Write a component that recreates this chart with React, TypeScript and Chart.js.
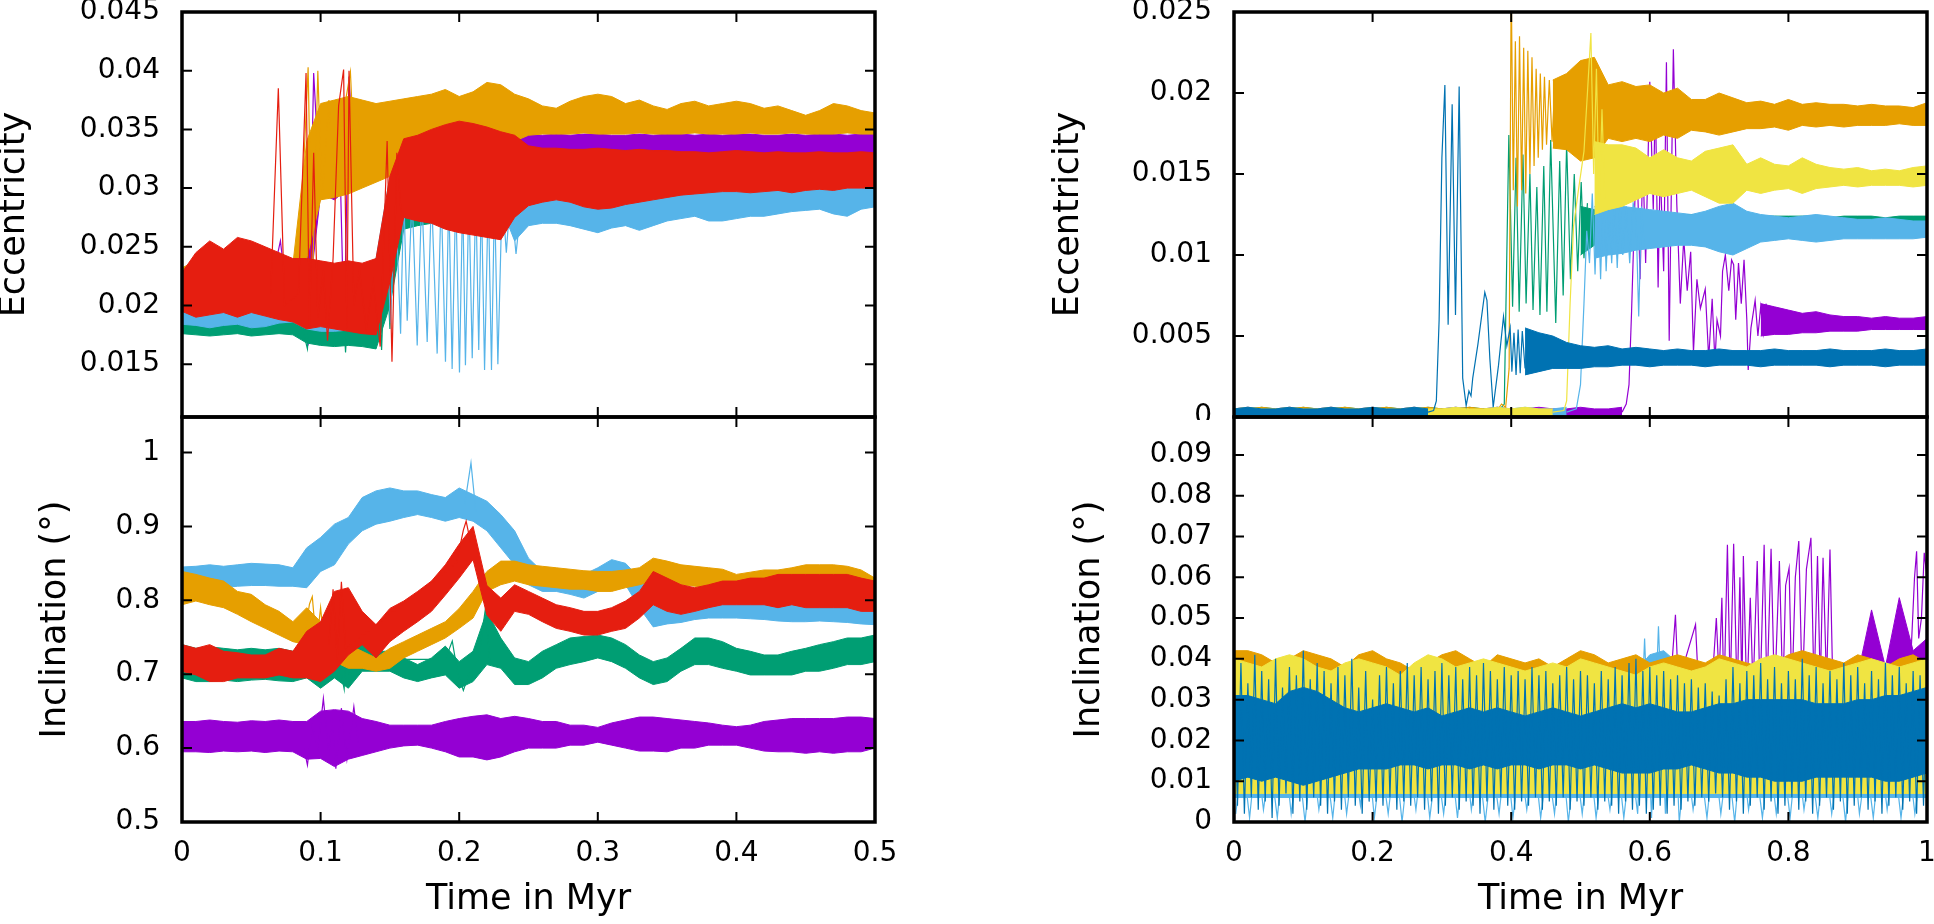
import { useEffect, useRef } from 'react'
import { Chart, registerables } from 'chart.js'

Chart.register(...registerables)

type Pt = [number, number]
type Val = number | null

// time grids (Myr)
const TIME_L = [
  0, 0.01, 0.02, 0.03, 0.04, 0.05, 0.06, 0.07, 0.08, 0.09,
  0.1, 0.11, 0.12, 0.13, 0.14, 0.15, 0.16, 0.17, 0.18, 0.19,
  0.2, 0.21, 0.22, 0.23, 0.24, 0.25, 0.26, 0.27, 0.28, 0.29,
  0.3, 0.31, 0.32, 0.33, 0.34, 0.35, 0.36, 0.37, 0.38, 0.39,
  0.4, 0.41, 0.42, 0.43, 0.44, 0.45, 0.46, 0.47, 0.48, 0.49,
  0.5,
]
const TIME_R = [
  0, 0.02, 0.04, 0.06, 0.08, 0.1, 0.12, 0.14, 0.16, 0.18,
  0.2, 0.22, 0.24, 0.26, 0.28, 0.3, 0.32, 0.34, 0.36, 0.38,
  0.4, 0.42, 0.44, 0.46, 0.48, 0.5, 0.52, 0.54, 0.56, 0.58,
  0.6, 0.62, 0.64, 0.66, 0.68, 0.7, 0.72, 0.74, 0.76, 0.78,
  0.8, 0.82, 0.84, 0.86, 0.88, 0.9, 0.92, 0.94, 0.96, 0.98,
  1,
]

// tick values and labels
const X_TICKS_L = [0, 0.1, 0.2, 0.3, 0.4, 0.5]
const X_LABELS_L = ['0', '0.1', '0.2', '0.3', '0.4', '0.5']
const X_TICKS_R = [0, 0.2, 0.4, 0.6, 0.8, 1]
const X_LABELS_R = ['0', '0.2', '0.4', '0.6', '0.8', '1']
const ECC_L_TICKS = [0.015, 0.02, 0.025, 0.03, 0.035, 0.04, 0.045]
const ECC_L_LABELS = ['0.015', '0.02', '0.025', '0.03', '0.035', '0.04', '0.045']
const INC_L_TICKS = [0.5, 0.6, 0.7, 0.8, 0.9, 1]
const INC_L_LABELS = ['0.5', '0.6', '0.7', '0.8', '0.9', '1']
const ECC_R_TICKS = [0, 0.005, 0.01, 0.015, 0.02, 0.025]
const ECC_R_LABELS = ['0', '0.005', '0.01', '0.015', '0.02', '0.025']
const INC_R_TICKS = [0, 0.01, 0.02, 0.03, 0.04, 0.05, 0.06, 0.07, 0.08, 0.09]
const INC_R_LABELS = ['0', '0.01', '0.02', '0.03', '0.04', '0.05', '0.06', '0.07', '0.08', '0.09']

const PURPLE = '#9400d3'
const GREEN = '#009e73'
const LBLUE = '#56b4e9'
const ORANGE = '#e69f00'
const YELLOW = '#f0e442'
const DBLUE = '#0072b2'
const RED = '#e51e10'

// ---------- eccentricity, left run (upper / lower edge of each band) ----------
const ECC_L_PURPLE_HI = [
  0.0215, 0.0212, 0.021, 0.0213, 0.0215, 0.0212, 0.0214, 0.022, 0.0218, 0.03,
  0.035, 0.036, 0.0355, 0.035, 0.035, 0.0348, 0.0348, 0.0348, 0.0348, 0.0348,
  0.0348, 0.0347, 0.0347, 0.0346, 0.0346, 0.0346, 0.0345, 0.0346, 0.0345, 0.0346,
  0.0346, 0.0345, 0.0345, 0.0346, 0.0345, 0.0346, 0.0346, 0.0345, 0.0346, 0.0345,
  0.0346, 0.0346, 0.0345, 0.0345, 0.0346, 0.0345, 0.0346, 0.0346, 0.0345, 0.0346,
  0.0346,
]
const ECC_L_PURPLE_LO = [
  0.0193, 0.019, 0.0192, 0.0191, 0.0193, 0.0192, 0.019, 0.0195, 0.0192, 0.019,
  0.0295, 0.029, 0.03, 0.0305, 0.031, 0.0312, 0.0315, 0.0318, 0.032, 0.0322,
  0.0322, 0.0323, 0.0324, 0.0325, 0.0326, 0.0327, 0.0326, 0.0327, 0.0326, 0.0326,
  0.0327, 0.0326, 0.0325, 0.0326, 0.0327, 0.0326, 0.0326, 0.0327, 0.0326, 0.0325,
  0.0326, 0.0327, 0.0326, 0.0326, 0.0327, 0.0326, 0.0326, 0.0327, 0.0326, 0.0326,
  0.0327,
]
const ECC_L_PURPLE_SPIKES: Pt[] = [
  [0.062, 0.0205], [0.071, 0.0255], [0.076, 0.0205], [0.086, 0.021], [0.091, 0.0166],
  [0.095, 0.0398], [0.099, 0.031], [0.103, 0.035], [0.108, 0.0305], [0.113, 0.037],
  [0.117, 0.0175], [0.1205, 0.0395], [0.125, 0.03], [0.13, 0.0345],
]
const ECC_L_GREEN_HI = [
  0.0198, 0.0196, 0.0194, 0.0196, 0.0198, 0.0196, 0.0195, 0.0197, 0.0196, 0.0215,
  0.0218, 0.022, 0.0218, 0.022, 0.0222, 0.029, 0.031, 0.0315, 0.0318, 0.032,
  0.0322, 0.032, 0.0318, 0.0316, 0.0315, 0.0314, 0.0314, 0.0315, 0.0314, 0.0314,
  0.0315, 0.0314, 0.0314, 0.0315, 0.0314, 0.0314, 0.0315, 0.0314, 0.0314, 0.0315,
  0.0314, 0.0314, 0.0315, 0.0314, 0.0314, 0.0315, 0.0314, 0.0314, 0.0315, 0.0314,
  0.0314,
]
const ECC_L_GREEN_LO = [
  0.0176, 0.0175, 0.0174, 0.0175, 0.0176, 0.0174, 0.0175, 0.0176, 0.0175, 0.0168,
  0.0166, 0.0165, 0.0166, 0.0165, 0.0163, 0.02, 0.0265, 0.0268, 0.027, 0.0272,
  0.0272, 0.0274, 0.0276, 0.028, 0.029, 0.0298, 0.0298, 0.0299, 0.0298, 0.0298,
  0.0299, 0.0298, 0.0298, 0.0299, 0.0298, 0.0298, 0.0299, 0.0298, 0.0298, 0.0299,
  0.0298, 0.0298, 0.0299, 0.0298, 0.0298, 0.0299, 0.0298, 0.0298, 0.0299, 0.0298,
  0.0298,
]
const ECC_L_GREEN_SPIKES: Pt[] = [
  [0.086, 0.0185], [0.0905, 0.0163], [0.094, 0.022], [0.112, 0.017], [0.115, 0.0225],
  [0.118, 0.016], [0.121, 0.022], [0.141, 0.024], [0.144, 0.0162], [0.147, 0.026],
  [0.15, 0.018], [0.153, 0.03],
]
const ECC_L_LBLUE_HI = [
  0.0205, 0.0203, 0.02, 0.0202, 0.0204, 0.0201, 0.0199, 0.0202, 0.0205, 0.0222,
  0.0226, 0.0228, 0.023, 0.0232, 0.024, 0.031, 0.031, 0.031, 0.031, 0.031,
  0.031, 0.031, 0.031, 0.031, 0.0305, 0.0305, 0.0305, 0.0305, 0.0304, 0.0303,
  0.0302, 0.0302, 0.0303, 0.0303, 0.0304, 0.0304, 0.0305, 0.0305, 0.0304, 0.0304,
  0.0303, 0.0303, 0.0302, 0.0302, 0.0302, 0.0301, 0.0301, 0.03, 0.03, 0.03,
  0.0299,
]
const ECC_L_LBLUE_LO = [
  0.0184, 0.0183, 0.0181, 0.0183, 0.0184, 0.0181, 0.0182, 0.0185, 0.0186, 0.018,
  0.0178, 0.0178, 0.0179, 0.0178, 0.018, 0.0285, 0.0285, 0.0285, 0.0285, 0.0285,
  0.0285, 0.0285, 0.0285, 0.0285, 0.0255, 0.0268, 0.027, 0.027, 0.0268, 0.0265,
  0.0262, 0.0266, 0.0268, 0.0264, 0.0268, 0.0272, 0.0274, 0.0276, 0.0272, 0.0272,
  0.0274, 0.0276, 0.0276, 0.0278, 0.028, 0.0281, 0.0282, 0.0278, 0.0276, 0.0282,
  0.0284,
]
const ECC_L_LBLUE_SPIKES: Pt[] = [
  [0.143, 0.024], [0.1455, 0.0205], [0.148, 0.0258], [0.1504, 0.0185], [0.154, 0.0295],
  [0.1577, 0.0176], [0.16, 0.0295], [0.1625, 0.0187], [0.166, 0.0295], [0.1697, 0.0166],
  [0.173, 0.0295], [0.1769, 0.0169], [0.18, 0.0295], [0.1841, 0.0159], [0.187, 0.0295],
  [0.1901, 0.0152], [0.1925, 0.0295], [0.1949, 0.0146], [0.1975, 0.0295], [0.2002, 0.0143],
  [0.2025, 0.0295], [0.2045, 0.0149], [0.207, 0.0295], [0.2094, 0.0155], [0.212, 0.0295],
  [0.2141, 0.0162], [0.216, 0.0295], [0.2183, 0.0145], [0.221, 0.0295], [0.2233, 0.0145],
  [0.2255, 0.0295], [0.2279, 0.015], [0.231, 0.0295], [0.234, 0.0245], [0.237, 0.0295],
  [0.241, 0.0244], [0.245, 0.029],
]
const ECC_L_ORANGE_HI = [
  0.0232, 0.0238, 0.0242, 0.0236, 0.024, 0.0238, 0.0236, 0.024, 0.0235, 0.034,
  0.0372, 0.0375, 0.0378, 0.0375, 0.0372, 0.0374, 0.0376, 0.0378, 0.038, 0.0384,
  0.0378, 0.0382, 0.039, 0.0388, 0.038, 0.0376, 0.037, 0.0368, 0.0374, 0.0378,
  0.038, 0.0378, 0.0372, 0.0375, 0.037, 0.0367, 0.0372, 0.0374, 0.037, 0.0372,
  0.0374, 0.0372, 0.0368, 0.037, 0.0366, 0.0362, 0.0366, 0.0372, 0.037, 0.0366,
  0.0364,
]
const ECC_L_ORANGE_LO = [
  0.0196, 0.0193, 0.0195, 0.0196, 0.0194, 0.0196, 0.0195, 0.0193, 0.0195, 0.024,
  0.029, 0.0292, 0.0295, 0.03, 0.0305, 0.031, 0.0318, 0.0322, 0.0326, 0.0328,
  0.033, 0.0332, 0.0334, 0.0336, 0.034, 0.0345, 0.0346, 0.0346, 0.0346, 0.0347,
  0.0346, 0.0346, 0.0346, 0.0347, 0.0346, 0.0346, 0.0346, 0.0347, 0.0346, 0.0346,
  0.0346, 0.0347, 0.0346, 0.0346, 0.0347, 0.0346, 0.0346, 0.0346, 0.0347, 0.0346,
  0.0346,
]
const ECC_L_ORANGE_SPIKES: Pt[] = [
  [0.084, 0.022], [0.091, 0.0403], [0.094, 0.021], [0.098, 0.04], [0.101, 0.029],
  [0.106, 0.0375], [0.11, 0.03], [0.116, 0.036], [0.1215, 0.0399], [0.125, 0.031],
  [0.128, 0.036],
]
const ECC_L_RED_HI = [
  0.0228, 0.0245, 0.0255, 0.0248, 0.0258, 0.0255, 0.025, 0.0245, 0.024, 0.024,
  0.0238, 0.0236, 0.0238, 0.0236, 0.024, 0.031, 0.0342, 0.0345, 0.035, 0.0354,
  0.0357, 0.0355, 0.0352, 0.0348, 0.0345, 0.0336, 0.0334, 0.0334, 0.0333, 0.0333,
  0.0334, 0.0333, 0.0332, 0.0333, 0.0332, 0.0332, 0.0331, 0.0331, 0.033, 0.0331,
  0.0332, 0.0331, 0.033, 0.0331, 0.033, 0.033, 0.0331, 0.033, 0.033, 0.0331,
  0.033,
]
const ECC_L_RED_LO = [
  0.0195, 0.019, 0.0192, 0.0194, 0.019, 0.0194, 0.0191, 0.0188, 0.0186, 0.018,
  0.0182, 0.018, 0.0178, 0.0176, 0.0175, 0.022, 0.0275, 0.0272, 0.027, 0.0265,
  0.0262, 0.026, 0.0258, 0.0256, 0.0275, 0.0285, 0.0288, 0.029, 0.0288, 0.0284,
  0.0282, 0.0283, 0.0286, 0.0288, 0.029, 0.0292, 0.0294, 0.0295, 0.0296, 0.0297,
  0.0297, 0.0296, 0.0297, 0.0298, 0.0296, 0.0298, 0.0299, 0.0298, 0.03, 0.03,
  0.03,
]
const ECC_L_RED_SPIKES: Pt[] = [
  [0.064, 0.021], [0.0695, 0.0385], [0.074, 0.02], [0.084, 0.021], [0.0895, 0.0398],
  [0.092, 0.018], [0.095, 0.033], [0.098, 0.019], [0.102, 0.023], [0.105, 0.017],
  [0.109, 0.024], [0.113, 0.037], [0.1166, 0.0401], [0.119, 0.018], [0.1205, 0.04],
  [0.124, 0.02], [0.128, 0.023], [0.133, 0.018], [0.138, 0.022], [0.143, 0.0165],
  [0.148, 0.034], [0.1515, 0.0152], [0.155, 0.033], [0.158, 0.028],
]

// ---------- inclination, left run ----------
const INC_L_PURPLE_HI = [
  0.636, 0.636, 0.638, 0.636, 0.635, 0.637, 0.636, 0.638, 0.636, 0.636,
  0.65, 0.652, 0.65, 0.64, 0.636, 0.631, 0.631, 0.631, 0.631, 0.636,
  0.64, 0.643, 0.645, 0.64, 0.643, 0.64, 0.636, 0.636, 0.631, 0.631,
  0.628, 0.634, 0.638, 0.642, 0.642, 0.64, 0.638, 0.636, 0.634, 0.631,
  0.629, 0.631, 0.636, 0.638, 0.64, 0.64, 0.64, 0.64, 0.642, 0.642,
  0.64,
]
const INC_L_PURPLE_LO = [
  0.595, 0.595, 0.594, 0.596, 0.595, 0.596, 0.594, 0.596, 0.595, 0.585,
  0.586, 0.575, 0.585, 0.59, 0.595, 0.6, 0.603, 0.604, 0.6, 0.595,
  0.588, 0.588, 0.584, 0.588, 0.595, 0.6, 0.6, 0.6, 0.604, 0.604,
  0.608, 0.604, 0.6, 0.596, 0.596, 0.595, 0.6, 0.6, 0.604, 0.604,
  0.604, 0.6, 0.596, 0.595, 0.595, 0.593, 0.595, 0.593, 0.595, 0.595,
  0.6,
]
const INC_L_PURPLE_SPIKES: Pt[] = [
  [0.088, 0.6], [0.0905, 0.577], [0.094, 0.63], [0.098, 0.6], [0.102, 0.667],
  [0.106, 0.59], [0.108, 0.64], [0.111, 0.572], [0.115, 0.654], [0.119, 0.585],
  [0.124, 0.656], [0.128, 0.595],
]
const INC_L_GREEN_HI = [
  0.74, 0.735, 0.737, 0.735, 0.733, 0.735, 0.733, 0.735, 0.731, 0.74,
  0.74, 0.758, 0.767, 0.749, 0.731, 0.731, 0.722, 0.713, 0.722, 0.738,
  0.717, 0.731, 0.785, 0.749, 0.722, 0.717, 0.731, 0.74, 0.749, 0.751,
  0.753, 0.749, 0.74, 0.726, 0.717, 0.722, 0.735, 0.749, 0.749, 0.744,
  0.735, 0.731, 0.726, 0.726, 0.731, 0.735, 0.74, 0.744, 0.749, 0.749,
  0.753,
]
const INC_L_GREEN_LO = [
  0.695, 0.69, 0.69, 0.692, 0.69, 0.692, 0.693, 0.691, 0.69, 0.695,
  0.681, 0.695, 0.681, 0.704, 0.704, 0.704, 0.695, 0.69, 0.695, 0.699,
  0.681, 0.69, 0.713, 0.708, 0.686, 0.686, 0.695, 0.708, 0.713, 0.717,
  0.722, 0.717, 0.708, 0.695, 0.686, 0.69, 0.704, 0.713, 0.713, 0.708,
  0.704, 0.699, 0.699, 0.699, 0.699, 0.704, 0.704, 0.708, 0.713, 0.713,
  0.717,
]
const INC_L_GREEN_SPIKES: Pt[] = [
  [0.115, 0.7], [0.117, 0.68], [0.119, 0.765], [0.121, 0.69], [0.124, 0.72],
  [0.19, 0.72], [0.195, 0.745], [0.199, 0.7], [0.203, 0.678], [0.207, 0.7],
  [0.214, 0.72], [0.219, 0.79], [0.222, 0.72],
]
const INC_L_LBLUE_HI = [
  0.845, 0.846, 0.848, 0.846, 0.848, 0.85, 0.849, 0.848, 0.844, 0.871,
  0.885, 0.903, 0.912, 0.939, 0.948, 0.952, 0.948, 0.948, 0.943, 0.939,
  0.952, 0.943, 0.934, 0.916, 0.894, 0.857, 0.839, 0.839, 0.839, 0.835,
  0.844, 0.855, 0.85, 0.83, 0.81, 0.808, 0.806, 0.806, 0.806, 0.806,
  0.806, 0.806, 0.806, 0.805, 0.805, 0.805, 0.805, 0.805, 0.804, 0.804,
  0.804,
]
const INC_L_LBLUE_LO = [
  0.815, 0.817, 0.818, 0.817, 0.819, 0.82, 0.82, 0.819, 0.819, 0.817,
  0.839, 0.848, 0.876, 0.894, 0.903, 0.907, 0.912, 0.916, 0.912, 0.907,
  0.912, 0.907, 0.894, 0.871, 0.848, 0.821, 0.812, 0.812, 0.808, 0.803,
  0.812, 0.825, 0.821, 0.79, 0.764, 0.768, 0.77, 0.774, 0.776, 0.776,
  0.776, 0.775, 0.774, 0.772, 0.771, 0.771, 0.772, 0.771, 0.77, 0.768,
  0.767,
]
const INC_L_LBLUE_SPIKES: Pt[] = [[0.204, 0.93], [0.2085, 0.986], [0.212, 0.92]]
const INC_L_ORANGE_HI = [
  0.839, 0.835, 0.83, 0.826, 0.812, 0.808, 0.794, 0.785, 0.771, 0.79,
  0.771, 0.749, 0.74, 0.731, 0.722, 0.735, 0.744, 0.753, 0.762, 0.771,
  0.789, 0.812, 0.839, 0.853, 0.853, 0.848, 0.846, 0.844, 0.842, 0.84,
  0.839, 0.839, 0.841, 0.844, 0.857, 0.853, 0.848, 0.846, 0.844, 0.842,
  0.835, 0.838, 0.841, 0.841, 0.844, 0.848, 0.848, 0.848, 0.846, 0.841,
  0.83,
]
const INC_L_ORANGE_LO = [
  0.794, 0.799, 0.794, 0.79, 0.781, 0.771, 0.762, 0.753, 0.744, 0.74,
  0.722, 0.717, 0.708, 0.708, 0.704, 0.708, 0.722, 0.731, 0.74, 0.749,
  0.762, 0.776, 0.812, 0.821, 0.826, 0.821, 0.819, 0.817, 0.815, 0.815,
  0.812, 0.812, 0.817, 0.821, 0.826, 0.826, 0.821, 0.819, 0.817, 0.817,
  0.814, 0.815, 0.817, 0.817, 0.819, 0.821, 0.819, 0.821, 0.819, 0.817,
  0.812,
]
const INC_L_ORANGE_SPIKES: Pt[] = [
  [0.089, 0.76], [0.092, 0.795], [0.094, 0.805], [0.097, 0.74], [0.1, 0.79], [0.103, 0.73],
]
const INC_L_RED_HI = [
  0.74, 0.735, 0.74, 0.731, 0.729, 0.726, 0.726, 0.735, 0.731, 0.758,
  0.771, 0.812, 0.817, 0.785, 0.767, 0.789, 0.799, 0.812, 0.826, 0.848,
  0.876, 0.9, 0.82, 0.803, 0.821, 0.812, 0.803, 0.794, 0.79, 0.785,
  0.785, 0.79, 0.799, 0.812, 0.839, 0.83, 0.821, 0.817, 0.821, 0.826,
  0.826, 0.83, 0.83, 0.835, 0.835, 0.835, 0.835, 0.835, 0.835, 0.83,
  0.826,
]
const INC_L_RED_LO = [
  0.704, 0.699, 0.69, 0.69, 0.695, 0.695, 0.695, 0.699, 0.695, 0.695,
  0.69, 0.704, 0.726, 0.74, 0.722, 0.744, 0.758, 0.771, 0.785, 0.807,
  0.83, 0.855, 0.78, 0.758, 0.785, 0.781, 0.771, 0.762, 0.758, 0.753,
  0.753, 0.758, 0.762, 0.776, 0.794, 0.785, 0.781, 0.785, 0.79, 0.794,
  0.794, 0.794, 0.794, 0.79, 0.794, 0.79, 0.79, 0.79, 0.79, 0.785,
  0.785,
]
const INC_L_RED_SPIKES: Pt[] = [
  [0.106, 0.74], [0.109, 0.815], [0.112, 0.72], [0.115, 0.825], [0.118, 0.735],
  [0.198, 0.85], [0.203, 0.895], [0.205, 0.907], [0.208, 0.88],
]

// ---------- eccentricity, right run ----------
const ECC_R_PURPLE_HI: Val[] = [
  0.0005, 0.0006, 0.0005, 0.0005, 0.0006, 0.0005, 0.0005, 0.0006, 0.0005, 0.0005,
  0.0006, 0.0005, 0.0005, 0.0006, 0.0005, 0.0005, 0.0006, 0.0005, 0.0005, 0.0006,
  0.0005, 0.0005, 0.0006, 0.0005, 0.0005, 0.0006, 0.0005, 0.0005, 0.0006, null,
  null, null, null, null, null, null, null, null, 0.007, 0.0068,
  0.0066, 0.0064, 0.0065, 0.0063, 0.0062, 0.0062, 0.0061, 0.0062, 0.0061, 0.0061,
  0.0062,
]
const ECC_R_PURPLE_LO: Val[] = [
  0.0001, 0.0001, 0.0001, 0.0001, 0.0001, 0.0001, 0.0001, 0.0001, 0.0001, 0.0001,
  0.0001, 0.0001, 0.0001, 0.0001, 0.0001, 0.0001, 0.0001, 0.0001, 0.0001, 0.0001,
  0.0001, 0.0001, 0.0001, 0.0001, 0.0001, 0.0001, 0.0001, 0.0001, 0.0001, null,
  null, null, null, null, null, null, null, null, 0.005, 0.0051,
  0.0051, 0.0052, 0.0052, 0.0053, 0.0053, 0.0053, 0.0054, 0.0054, 0.0054, 0.0054,
  0.0054,
]
const ECC_R_PURPLE_SPIKES: Pt[] = [
  [0.56, 0.0003], [0.566, 0.0008], [0.57, 0.002], [0.5737, 0.0065], [0.5786, 0.0135],
  [0.582, 0.015], [0.586, 0.0085], [0.59, 0.016], [0.594, 0.0095], [0.6, 0.0207],
  [0.605, 0.0128], [0.608, 0.02], [0.612, 0.008], [0.615, 0.0155], [0.62, 0.009],
  [0.624, 0.0219], [0.628, 0.0047], [0.634, 0.0227], [0.639, 0.0131], [0.644, 0.007],
  [0.649, 0.011], [0.654, 0.0078], [0.659, 0.0102], [0.663, 0.004], [0.668, 0.0085],
  [0.673, 0.0067], [0.68, 0.0079], [0.685, 0.0036], [0.69, 0.0073], [0.694, 0.0034],
  [0.697, 0.006], [0.702, 0.005], [0.705, 0.009], [0.709, 0.01], [0.714, 0.0078],
  [0.718, 0.0097], [0.721, 0.0094], [0.724, 0.006], [0.728, 0.0095], [0.732, 0.007],
  [0.736, 0.0097], [0.74, 0.006], [0.742, 0.0029], [0.746, 0.0055], [0.752, 0.0072],
  [0.756, 0.005], [0.76, 0.0068], [0.764, 0.0052], [0.768, 0.007],
]
const ECC_R_GREEN_HI: Val[] = [
  0.0005, 0.0005, 0.0006, 0.0005, 0.0005, 0.0006, 0.0005, 0.0005, 0.0006, 0.0005,
  0.0005, 0.0006, 0.0005, 0.0005, 0.0006, 0.0005, 0.0005, 0.0006, 0.0005, 0.0005,
  null, null, null, null, null, 0.013, 0.0128, 0.0127, 0.0126, 0.0126,
  0.0126, 0.0125, 0.0125, 0.0125, 0.0124, 0.0125, 0.0125, 0.0124, 0.0124, 0.0124,
  0.0124, 0.0124, 0.0124, 0.0123, 0.0124, 0.0124, 0.0124, 0.0123, 0.0124, 0.0124,
  0.0124,
]
const ECC_R_GREEN_LO: Val[] = [
  0.0001, 0.0001, 0.0001, 0.0001, 0.0001, 0.0001, 0.0001, 0.0001, 0.0001, 0.0001,
  0.0001, 0.0001, 0.0001, 0.0001, 0.0001, 0.0001, 0.0001, 0.0001, 0.0001, 0.0001,
  null, null, null, null, null, 0.01, 0.0106, 0.0108, 0.0109, 0.011,
  0.011, 0.0111, 0.0111, 0.0111, 0.0112, 0.0111, 0.0111, 0.0112, 0.0112, 0.0112,
  0.0112, 0.0112, 0.0112, 0.0112, 0.0112, 0.0112, 0.0112, 0.0112, 0.0112, 0.0112,
  0.0112,
]
const ECC_R_GREEN_SPIKES: Pt[] = [
  [0.38, 0.0003], [0.39, 0.0008], [0.3966, 0.0174], [0.402, 0.0068], [0.407, 0.016],
  [0.4115, 0.0065], [0.417, 0.0162], [0.4215, 0.007], [0.427, 0.015], [0.4315, 0.0066],
  [0.437, 0.0142], [0.4415, 0.0063], [0.447, 0.0155], [0.4515, 0.0065], [0.457, 0.0171],
  [0.4643, 0.0058], [0.47, 0.0158], [0.475, 0.0075], [0.48, 0.0169], [0.4855, 0.0085],
  [0.491, 0.015], [0.496, 0.009], [0.501, 0.0145], [0.505, 0.0098], [0.51, 0.0132],
]
const ECC_R_LBLUE_HI: Val[] = [
  0.0005, 0.0006, 0.0005, 0.0005, 0.0006, 0.0005, 0.0005, 0.0006, 0.0005, 0.0005,
  0.0006, 0.0005, 0.0005, 0.0006, 0.0005, 0.0005, 0.0006, 0.0005, 0.0005, 0.0006,
  0.0005, 0.0006, 0.0005, 0.0005, 0.0006, null, 0.013, 0.0131, 0.013, 0.0129,
  0.0128, 0.0127, 0.0126, 0.0125, 0.0127, 0.013, 0.0132, 0.0127, 0.0125, 0.0124,
  0.0123, 0.0124, 0.0125, 0.0124, 0.0123, 0.0122, 0.0122, 0.0123, 0.0122, 0.0121,
  0.0121,
]
const ECC_R_LBLUE_LO: Val[] = [
  0.0001, 0.0001, 0.0001, 0.0001, 0.0001, 0.0001, 0.0001, 0.0001, 0.0001, 0.0001,
  0.0001, 0.0001, 0.0001, 0.0001, 0.0001, 0.0001, 0.0001, 0.0001, 0.0001, 0.0001,
  0.0001, 0.0001, 0.0001, 0.0001, 0.0001, null, 0.0098, 0.01, 0.0101, 0.0103,
  0.0104, 0.0105, 0.0106, 0.0106, 0.0105, 0.0102, 0.01, 0.0104, 0.0108, 0.0109,
  0.011, 0.0109, 0.0108, 0.0109, 0.011, 0.011, 0.011, 0.011, 0.011, 0.011,
  0.0111,
]
const ECC_R_LBLUE_SPIKES: Pt[] = [
  [0.48, 0.0003], [0.494, 0.0005], [0.5, 0.002], [0.505, 0.007], [0.509, 0.0115],
  [0.513, 0.0095], [0.517, 0.0138], [0.521, 0.0088], [0.525, 0.014], [0.529, 0.0085],
  [0.533, 0.0142], [0.537, 0.009], [0.541, 0.013], [0.545, 0.0095], [0.549, 0.0135],
  [0.553, 0.0092], [0.557, 0.0132], [0.561, 0.01], [0.566, 0.013], [0.571, 0.0095],
  [0.576, 0.0132], [0.58, 0.0125], [0.584, 0.0062], [0.588, 0.013], [0.592, 0.0104],
]
const ECC_R_ORANGE_HI: Val[] = [
  0.0005, 0.0005, 0.0006, 0.0005, 0.0005, 0.0006, 0.0005, 0.0005, 0.0006, 0.0005,
  0.0005, 0.0006, 0.0005, 0.0005, 0.0006, 0.0005, 0.0005, 0.0006, 0.0005, 0.0005,
  null, null, null, 0.0208, 0.0212, 0.022, 0.0222, 0.0205, 0.0207, 0.0204,
  0.0205, 0.02, 0.0203, 0.0196, 0.0196, 0.02, 0.0197, 0.0194, 0.0195, 0.0193,
  0.0196, 0.0193, 0.0194, 0.0193, 0.0193, 0.0192, 0.0193, 0.0192, 0.0192, 0.0191,
  0.0194,
]
const ECC_R_ORANGE_LO: Val[] = [
  0.0001, 0.0001, 0.0001, 0.0001, 0.0001, 0.0001, 0.0001, 0.0001, 0.0001, 0.0001,
  0.0001, 0.0001, 0.0001, 0.0001, 0.0001, 0.0001, 0.0001, 0.0001, 0.0001, 0.0001,
  null, null, null, 0.0166, 0.0165, 0.0158, 0.016, 0.0172, 0.017, 0.0172,
  0.017, 0.0174, 0.0172, 0.0177, 0.0176, 0.0174, 0.0176, 0.0178, 0.0178, 0.0179,
  0.0177, 0.018, 0.0179, 0.018, 0.0179, 0.018, 0.018, 0.018, 0.0181, 0.018,
  0.018,
]
const ECC_R_ORANGE_SPIKES: Pt[] = [
  [0.38, 0.0004], [0.386, 0.0008], [0.392, 0.0006], [0.397, 0.003], [0.4, 0.027],
  [0.403, 0.014], [0.406, 0.0232], [0.409, 0.013], [0.412, 0.0235], [0.415, 0.014],
  [0.418, 0.0228], [0.421, 0.0138], [0.424, 0.0226], [0.427, 0.015], [0.43, 0.0222],
  [0.433, 0.0155], [0.436, 0.0215], [0.439, 0.016], [0.442, 0.0212], [0.445, 0.0165],
  [0.448, 0.021], [0.451, 0.0168], [0.455, 0.0208], [0.459, 0.017], [0.463, 0.0205],
]
const ECC_R_YELLOW_HI: Val[] = [
  0.0005, 0.0006, 0.0005, 0.0005, 0.0006, 0.0005, 0.0005, 0.0006, 0.0005, 0.0005,
  0.0006, 0.0005, 0.0005, 0.0006, 0.0005, 0.0005, 0.0006, 0.0005, 0.0005, 0.0006,
  0.0005, 0.0006, 0.0005, 0.0005, null, null, 0.017, 0.0168, 0.0168, 0.0166,
  0.016, 0.0165, 0.016, 0.0158, 0.0164, 0.0166, 0.0168, 0.0156, 0.016, 0.0156,
  0.0155, 0.016, 0.0156, 0.0154, 0.0153, 0.0154, 0.0152, 0.0153, 0.0152, 0.0154,
  0.0155,
]
const ECC_R_YELLOW_LO: Val[] = [
  0.0001, 0.0001, 0.0001, 0.0001, 0.0001, 0.0001, 0.0001, 0.0001, 0.0001, 0.0001,
  0.0001, 0.0001, 0.0001, 0.0001, 0.0001, 0.0001, 0.0001, 0.0001, 0.0001, 0.0001,
  0.0001, 0.0001, 0.0001, 0.0001, null, null, 0.0125, 0.0128, 0.013, 0.0134,
  0.0138, 0.0136, 0.0138, 0.014, 0.0136, 0.0132, 0.0132, 0.014, 0.0138, 0.014,
  0.0141, 0.0138, 0.0141, 0.0142, 0.0143, 0.0142, 0.0143, 0.0143, 0.0143, 0.0142,
  0.0143,
]
const ECC_R_YELLOW_SPIKES: Pt[] = [
  [0.46, 0.0003], [0.476, 0.0004], [0.48, 0.001], [0.485, 0.007], [0.49, 0.0118],
  [0.497, 0.014], [0.505, 0.0164], [0.51, 0.02], [0.515, 0.0237], [0.519, 0.015],
  [0.523, 0.0215], [0.527, 0.013], [0.531, 0.019], [0.535, 0.0135],
]
const ECC_R_DBLUE_HI: Val[] = [
  0.0005, 0.0006, 0.0005, 0.0005, 0.0006, 0.0005, 0.0005, 0.0006, 0.0005, 0.0005,
  0.0006, 0.0005, 0.0005, 0.0006, 0.0005, null, null, null, null, null,
  null, 0.0055, 0.0052, 0.005, 0.0046, 0.0044, 0.0043, 0.0044, 0.0042, 0.0043,
  0.0042, 0.0041, 0.0042, 0.0041, 0.0041, 0.0042, 0.0041, 0.0041, 0.0041, 0.0042,
  0.0041, 0.0041, 0.0041, 0.0042, 0.0041, 0.0041, 0.0041, 0.0042, 0.0041, 0.0041,
  0.0042,
]
const ECC_R_DBLUE_LO: Val[] = [
  0.0001, 0.0001, 0.0001, 0.0001, 0.0001, 0.0001, 0.0001, 0.0001, 0.0001, 0.0001,
  0.0001, 0.0001, 0.0001, 0.0001, 0.0001, null, null, null, null, null,
  null, 0.0026, 0.0028, 0.003, 0.003, 0.003, 0.0031, 0.0031, 0.0032, 0.0032,
  0.0031, 0.0032, 0.0032, 0.0032, 0.0031, 0.0032, 0.0032, 0.0032, 0.0031, 0.0032,
  0.0032, 0.0032, 0.0032, 0.0031, 0.0032, 0.0032, 0.0032, 0.0031, 0.0032, 0.0032,
  0.0032,
]
const ECC_R_DBLUE_SPIKES: Pt[] = [
  [0.28, 0.0003], [0.288, 0.0004], [0.292, 0.001], [0.296, 0.006], [0.3, 0.016],
  [0.3043, 0.0205], [0.309, 0.0057], [0.3148, 0.0193], [0.3196, 0.0063], [0.3249, 0.0204],
  [0.33, 0.0024], [0.335, 0.0007], [0.339, 0.0016], [0.342, 0.0013], [0.3445, 0.0024],
  [0.352, 0.0045], [0.3619, 0.0077], [0.365, 0.0072], [0.3692, 0.0036], [0.374, 0.0006],
  [0.3817, 0.0032], [0.3889, 0.0062], [0.3937, 0.0044], [0.3985, 0.0055], [0.401, 0.0028],
  [0.404, 0.0052], [0.407, 0.0026], [0.41, 0.0054], [0.413, 0.0027], [0.416, 0.0053],
  [0.42, 0.003],
]

// ---------- inclination, right run ----------
const INC_R_PURPLE_HI = [
  0.034, 0.034, 0.034, 0.034, 0.034, 0.034, 0.034, 0.034, 0.034, 0.034,
  0.034, 0.034, 0.034, 0.034, 0.034, 0.034, 0.034, 0.034, 0.034, 0.034,
  0.034, 0.034, 0.034, 0.034, 0.034, 0.034, 0.034, 0.034, 0.034, 0.034,
  0.034, 0.034, 0.034, 0.034, 0.034, 0.034, 0.034, 0.034, 0.034, 0.034,
  0.034, 0.034, 0.034, 0.034, 0.034, 0.036, 0.052, 0.038, 0.055, 0.042,
  0.045,
]
const INC_R_PURPLE_LO = [
  0.008, 0.008, 0.008, 0.008, 0.008, 0.008, 0.008, 0.008, 0.008, 0.008,
  0.008, 0.008, 0.008, 0.008, 0.008, 0.008, 0.008, 0.008, 0.008, 0.008,
  0.008, 0.008, 0.008, 0.008, 0.008, 0.008, 0.008, 0.008, 0.008, 0.008,
  0.008, 0.008, 0.008, 0.008, 0.008, 0.008, 0.008, 0.008, 0.008, 0.008,
  0.008, 0.008, 0.008, 0.008, 0.008, 0.008, 0.008, 0.008, 0.008, 0.008,
  0.008,
]
const INC_R_PURPLE_SPIKES: Pt[] = [
  [0.63, 0.034], [0.637, 0.0508], [0.641, 0.034], [0.666, 0.0484], [0.67, 0.034],
  [0.69, 0.034], [0.696, 0.05], [0.7, 0.035], [0.704, 0.055], [0.707, 0.03],
  [0.712, 0.068], [0.716, 0.032], [0.721, 0.0682], [0.726, 0.03], [0.73, 0.06],
  [0.733, 0.031], [0.735, 0.0652], [0.74, 0.03], [0.745, 0.055], [0.749, 0.032],
  [0.755, 0.064], [0.759, 0.03], [0.765, 0.068], [0.769, 0.031], [0.775, 0.067],
  [0.78, 0.03], [0.787, 0.064], [0.792, 0.031], [0.796, 0.058], [0.801, 0.0623],
  [0.805, 0.031], [0.81, 0.06], [0.815, 0.0689], [0.82, 0.031], [0.826, 0.062],
  [0.8325, 0.0697], [0.837, 0.032], [0.842, 0.0652], [0.846, 0.033], [0.85, 0.0648],
  [0.855, 0.034], [0.86, 0.0668], [0.864, 0.034], [0.87, 0.034], [0.975, 0.034],
  [0.982, 0.06], [0.985, 0.0664], [0.988, 0.045], [0.992, 0.05], [0.996, 0.066],
  [1, 0.06],
]
const INC_R_GREEN_HI = [
  0.036, 0.035, 0.036, 0.037, 0.036, 0.035, 0.036, 0.036, 0.035, 0.036,
  0.037, 0.036, 0.035, 0.036, 0.036, 0.035, 0.036, 0.037, 0.036, 0.035,
  0.036, 0.036, 0.035, 0.036, 0.037, 0.036, 0.035, 0.036, 0.036, 0.035,
  0.036, 0.037, 0.036, 0.035, 0.036, 0.036, 0.035, 0.036, 0.037, 0.036,
  0.035, 0.036, 0.036, 0.035, 0.036, 0.037, 0.036, 0.035, 0.036, 0.036,
  0.035,
]
const INC_R_GREEN_LO = [
  0.007, 0.007, 0.007, 0.007, 0.007, 0.007, 0.007, 0.007, 0.007, 0.007,
  0.007, 0.007, 0.007, 0.007, 0.007, 0.007, 0.007, 0.007, 0.007, 0.007,
  0.007, 0.007, 0.007, 0.007, 0.007, 0.007, 0.007, 0.007, 0.007, 0.007,
  0.007, 0.007, 0.007, 0.007, 0.007, 0.007, 0.007, 0.007, 0.007, 0.007,
  0.007, 0.007, 0.007, 0.007, 0.007, 0.007, 0.007, 0.007, 0.007, 0.007,
  0.007,
]
const INC_R_LBLUE_HI = [
  0.036, 0.037, 0.036, 0.035, 0.036, 0.037, 0.036, 0.035, 0.036, 0.037,
  0.036, 0.035, 0.036, 0.037, 0.036, 0.035, 0.036, 0.037, 0.036, 0.035,
  0.036, 0.037, 0.036, 0.035, 0.036, 0.037, 0.036, 0.035, 0.036, 0.037,
  0.041, 0.042, 0.039, 0.038, 0.038, 0.039, 0.038, 0.037, 0.038, 0.039,
  0.038, 0.037, 0.038, 0.039, 0.038, 0.037, 0.038, 0.039, 0.038, 0.037,
  0.038,
]
const INC_R_LBLUE_LO = [
  0.006, 0.006, 0.006, 0.006, 0.006, 0.006, 0.006, 0.006, 0.006, 0.006,
  0.006, 0.006, 0.006, 0.006, 0.006, 0.006, 0.006, 0.006, 0.006, 0.006,
  0.006, 0.006, 0.006, 0.006, 0.006, 0.006, 0.006, 0.006, 0.006, 0.006,
  0.006, 0.006, 0.006, 0.006, 0.006, 0.006, 0.006, 0.006, 0.006, 0.006,
  0.006, 0.006, 0.006, 0.006, 0.006, 0.006, 0.006, 0.006, 0.006, 0.006,
  0.006,
]
const INC_R_LBLUE_SPIKES: Pt[] = [
  [0.0025, 0.002], [0.0125, 0.016], [0.0225, 0.001], [0.0325, 0.018], [0.0425, 0.003],
  [0.0525, 0.015], [0.0625, 0.001], [0.0725, 0.019], [0.0825, 0.002], [0.0925, 0.016],
  [0.1025, 0], [0.1125, 0.017], [0.1225, 0.003], [0.1325, 0.015], [0.1425, 0.001],
  [0.1525, 0.018], [0.1625, 0.002], [0.1725, 0.016], [0.1825, 0.004], [0.1925, 0.019],
  [0.2025, 0.001], [0.2125, 0.015], [0.2225, 0.002], [0.2325, 0.017], [0.2425, 0],
  [0.2525, 0.016], [0.2625, 0.003], [0.2725, 0.018], [0.2825, 0.001], [0.2925, 0.015],
  [0.3025, 0.002], [0.3125, 0.017], [0.3225, 0.001], [0.3325, 0.019], [0.3425, 0.003],
  [0.3525, 0.016], [0.3625, 0], [0.3725, 0.015], [0.3825, 0.002], [0.3925, 0.018],
  [0.4025, 0.001], [0.4125, 0.016], [0.4225, 0.003], [0.4325, 0.017], [0.4425, 0.001],
  [0.4525, 0.015], [0.4625, 0.002], [0.4725, 0.019], [0.4825, 0], [0.4925, 0.016],
  [0.5025, 0.002], [0.5125, 0.018], [0.5225, 0.001], [0.5325, 0.015], [0.5425, 0.003],
  [0.5525, 0.017], [0.5625, 0.001], [0.5725, 0.016], [0.5825, 0.002], [0.5925, 0.045],
  [0.6025, 0.001], [0.6125, 0.048], [0.6225, 0.002], [0.6325, 0.04], [0.6425, 0],
  [0.6525, 0.017], [0.6625, 0.003], [0.6725, 0.015], [0.6825, 0.001], [0.6925, 0.018],
  [0.7025, 0.002], [0.7125, 0.016], [0.7225, 0], [0.7325, 0.019], [0.7425, 0.003],
  [0.7525, 0.015], [0.7625, 0.001], [0.7725, 0.017], [0.7825, 0.002], [0.7925, 0.016],
  [0.8025, 0.001], [0.8125, 0.018], [0.8225, 0.003], [0.8325, 0.015], [0.8425, 0.001],
  [0.8525, 0.017], [0.8625, 0.002], [0.8725, 0.016], [0.8825, 0], [0.8925, 0.019],
  [0.9025, 0.002], [0.9125, 0.015], [0.9225, 0.001], [0.9325, 0.018], [0.9425, 0.003],
  [0.9525, 0.016], [0.9625, 0.001], [0.9725, 0.017], [0.9825, 0.002], [0.9925, 0.015],
]
const INC_R_ORANGE_HI = [
  0.042, 0.042, 0.041, 0.039, 0.04, 0.042, 0.041, 0.04, 0.038, 0.041,
  0.042, 0.04, 0.039, 0.037, 0.039, 0.041, 0.042, 0.04, 0.038, 0.041,
  0.04, 0.039, 0.04, 0.038, 0.04, 0.042, 0.041, 0.039, 0.04, 0.041,
  0.039, 0.04, 0.041, 0.04, 0.039, 0.041, 0.04, 0.039, 0.038, 0.039,
  0.041, 0.042, 0.041, 0.04, 0.039, 0.041, 0.04, 0.038, 0.04, 0.041,
  0.039,
]
const INC_R_ORANGE_LO = [
  0.012, 0.012, 0.012, 0.012, 0.012, 0.012, 0.012, 0.012, 0.012, 0.012,
  0.012, 0.012, 0.012, 0.012, 0.012, 0.012, 0.012, 0.012, 0.012, 0.012,
  0.012, 0.012, 0.012, 0.012, 0.012, 0.012, 0.012, 0.012, 0.012, 0.012,
  0.012, 0.012, 0.012, 0.012, 0.012, 0.012, 0.012, 0.012, 0.012, 0.012,
  0.012, 0.012, 0.012, 0.012, 0.012, 0.012, 0.012, 0.012, 0.012, 0.012,
  0.012,
]
const INC_R_YELLOW_HI = [
  0.04, 0.039, 0.038, 0.04, 0.041, 0.04, 0.038, 0.037, 0.039, 0.04,
  0.039, 0.038, 0.036, 0.039, 0.041, 0.04, 0.038, 0.039, 0.04, 0.039,
  0.038, 0.037, 0.038, 0.039, 0.038, 0.04, 0.039, 0.038, 0.037, 0.036,
  0.038, 0.039, 0.038, 0.037, 0.038, 0.04, 0.039, 0.038, 0.04, 0.041,
  0.04, 0.039, 0.038, 0.037, 0.038, 0.039, 0.04, 0.039, 0.038, 0.039,
  0.04,
]
const INC_R_YELLOW_LO = [
  0.007, 0.007, 0.007, 0.007, 0.007, 0.007, 0.007, 0.007, 0.007, 0.007,
  0.007, 0.007, 0.007, 0.007, 0.007, 0.007, 0.007, 0.007, 0.007, 0.007,
  0.007, 0.007, 0.007, 0.007, 0.007, 0.007, 0.007, 0.007, 0.007, 0.007,
  0.007, 0.007, 0.007, 0.007, 0.007, 0.007, 0.007, 0.007, 0.007, 0.007,
  0.007, 0.007, 0.007, 0.007, 0.007, 0.007, 0.007, 0.007, 0.007, 0.007,
  0.007,
]
const INC_R_DBLUE_HI = [
  0.031, 0.031, 0.03, 0.029, 0.032, 0.033, 0.032, 0.03, 0.028, 0.027,
  0.028, 0.029, 0.028, 0.027, 0.028, 0.026, 0.027, 0.028, 0.027, 0.028,
  0.027, 0.026, 0.027, 0.028, 0.027, 0.026, 0.027, 0.028, 0.029, 0.028,
  0.029, 0.028, 0.027, 0.027, 0.028, 0.029, 0.029, 0.03, 0.03, 0.03,
  0.03, 0.03, 0.029, 0.029, 0.029, 0.03, 0.03, 0.031, 0.031, 0.032,
  0.033,
]
const INC_R_DBLUE_LO = [
  0.01, 0.011, 0.01, 0.011, 0.01, 0.009, 0.01, 0.011, 0.012, 0.013,
  0.013, 0.013, 0.014, 0.014, 0.013, 0.014, 0.014, 0.013, 0.014, 0.013,
  0.014, 0.014, 0.013, 0.014, 0.014, 0.013, 0.014, 0.013, 0.012, 0.012,
  0.012, 0.013, 0.013, 0.014, 0.013, 0.012, 0.012, 0.011, 0.011, 0.01,
  0.01, 0.01, 0.011, 0.011, 0.011, 0.011, 0.011, 0.01, 0.01, 0.011,
  0.012,
]
const INC_R_DBLUE_SPIKES: Pt[] = [
  [0, 0.036], [0.005, 0.004], [0.01, 0.039], [0.015, 0.002], [0.02, 0.034],
  [0.025, 0.006], [0.03, 0.041], [0.035, 0.003], [0.04, 0.037], [0.045, 0.005],
  [0.05, 0.035], [0.055, 0.001], [0.06, 0.04], [0.065, 0.004], [0.07, 0.033],
  [0.075, 0.007], [0.08, 0.038], [0.085, 0.002], [0.09, 0.036], [0.095, 0.005],
  [0.1, 0.042], [0.105, 0.003], [0.11, 0.035], [0.115, 0.006], [0.12, 0.039],
  [0.125, 0.004], [0.13, 0.037], [0.135, 0.002], [0.14, 0.034], [0.145, 0.005],
  [0.15, 0.038], [0.155, 0.003], [0.16, 0.036], [0.165, 0.006], [0.17, 0.04],
  [0.175, 0.004], [0.18, 0.033], [0.185, 0.002], [0.19, 0.037], [0.195, 0.005],
  [0.2, 0.03], [0.205, 0.005], [0.21, 0.036], [0.215, 0.004], [0.22, 0.038],
  [0.225, 0.006], [0.23, 0.034], [0.235, 0.003], [0.24, 0.037], [0.245, 0.005],
  [0.25, 0.039], [0.255, 0.004], [0.26, 0.036], [0.265, 0.006], [0.27, 0.038],
  [0.275, 0.003], [0.28, 0.035], [0.285, 0.005], [0.29, 0.037], [0.295, 0.002],
  [0.3, 0.039], [0.305, 0.004], [0.31, 0.036], [0.315, 0.006], [0.32, 0.038],
  [0.325, 0.003], [0.33, 0.035], [0.335, 0.005], [0.34, 0.038], [0.345, 0.004],
  [0.35, 0.036], [0.355, 0.002], [0.36, 0.039], [0.365, 0.005], [0.37, 0.037],
  [0.375, 0.003], [0.38, 0.035], [0.385, 0.006], [0.39, 0.038], [0.395, 0.004],
  [0.4, 0.036], [0.405, 0.003], [0.41, 0.037], [0.415, 0.005], [0.42, 0.035],
  [0.425, 0.004], [0.43, 0.038], [0.435, 0.006], [0.44, 0.036], [0.445, 0.003],
  [0.45, 0.037], [0.455, 0.005], [0.46, 0.034], [0.465, 0.004], [0.47, 0.036],
  [0.475, 0.006], [0.48, 0.038], [0.485, 0.003], [0.49, 0.035], [0.495, 0.005],
  [0.5, 0.037], [0.505, 0.004], [0.51, 0.036], [0.515, 0.006], [0.52, 0.034],
  [0.525, 0.003], [0.53, 0.037], [0.535, 0.005], [0.54, 0.035], [0.545, 0.004],
  [0.55, 0.038], [0.555, 0.002], [0.56, 0.036], [0.565, 0.005], [0.57, 0.039],
  [0.575, 0.003], [0.58, 0.04], [0.585, 0.004], [0.59, 0.037], [0.595, 0.002],
  [0.6, 0.038], [0.605, 0.003], [0.61, 0.036], [0.615, 0.004], [0.62, 0.037],
  [0.625, 0.002], [0.63, 0.035], [0.635, 0.004], [0.64, 0.036], [0.645, 0.003],
  [0.65, 0.034], [0.655, 0.005], [0.66, 0.035], [0.665, 0.004], [0.67, 0.033],
  [0.675, 0.006], [0.68, 0.034], [0.685, 0.005], [0.69, 0.032], [0.695, 0.007],
  [0.7, 0.031], [0.705, 0.006], [0.71, 0.035], [0.715, 0.003], [0.72, 0.038],
  [0.725, 0.005], [0.73, 0.034], [0.735, 0.002], [0.74, 0.037], [0.745, 0.004],
  [0.75, 0.036], [0.755, 0.006], [0.76, 0.039], [0.765, 0.003], [0.77, 0.035],
  [0.775, 0.005], [0.78, 0.038], [0.785, 0.002], [0.79, 0.034], [0.795, 0.004],
  [0.8, 0.037], [0.805, 0.006], [0.81, 0.035], [0.815, 0.003], [0.82, 0.04],
  [0.825, 0.005], [0.83, 0.036], [0.835, 0.002], [0.84, 0.038], [0.845, 0.004],
  [0.85, 0.034], [0.855, 0.006], [0.86, 0.037], [0.865, 0.003], [0.87, 0.035],
  [0.875, 0.005], [0.88, 0.039], [0.885, 0.002], [0.89, 0.036], [0.895, 0.004],
  [0.9, 0.038], [0.905, 0.006], [0.91, 0.034], [0.915, 0.003], [0.92, 0.037],
  [0.925, 0.005], [0.93, 0.035], [0.935, 0.002], [0.94, 0.039], [0.945, 0.004],
  [0.95, 0.036], [0.955, 0.006], [0.96, 0.038], [0.965, 0.003], [0.97, 0.034],
  [0.975, 0.005], [0.98, 0.037], [0.985, 0.002], [0.99, 0.036], [0.995, 0.004],
  [1, 0.038],
]

interface Series {
  color: string
  hi: Val[]
  lo: Val[]
  spikes?: Pt[]
}

// listed bottom layer first
const ECC_L: Series[] = [
  { color: PURPLE, hi: ECC_L_PURPLE_HI, lo: ECC_L_PURPLE_LO, spikes: ECC_L_PURPLE_SPIKES },
  { color: GREEN, hi: ECC_L_GREEN_HI, lo: ECC_L_GREEN_LO, spikes: ECC_L_GREEN_SPIKES },
  { color: LBLUE, hi: ECC_L_LBLUE_HI, lo: ECC_L_LBLUE_LO, spikes: ECC_L_LBLUE_SPIKES },
  { color: ORANGE, hi: ECC_L_ORANGE_HI, lo: ECC_L_ORANGE_LO, spikes: ECC_L_ORANGE_SPIKES },
  { color: RED, hi: ECC_L_RED_HI, lo: ECC_L_RED_LO, spikes: ECC_L_RED_SPIKES },
]
const INC_L: Series[] = [
  { color: PURPLE, hi: INC_L_PURPLE_HI, lo: INC_L_PURPLE_LO, spikes: INC_L_PURPLE_SPIKES },
  { color: GREEN, hi: INC_L_GREEN_HI, lo: INC_L_GREEN_LO, spikes: INC_L_GREEN_SPIKES },
  { color: LBLUE, hi: INC_L_LBLUE_HI, lo: INC_L_LBLUE_LO, spikes: INC_L_LBLUE_SPIKES },
  { color: ORANGE, hi: INC_L_ORANGE_HI, lo: INC_L_ORANGE_LO, spikes: INC_L_ORANGE_SPIKES },
  { color: RED, hi: INC_L_RED_HI, lo: INC_L_RED_LO, spikes: INC_L_RED_SPIKES },
]
const ECC_R: Series[] = [
  { color: PURPLE, hi: ECC_R_PURPLE_HI, lo: ECC_R_PURPLE_LO, spikes: ECC_R_PURPLE_SPIKES },
  { color: GREEN, hi: ECC_R_GREEN_HI, lo: ECC_R_GREEN_LO, spikes: ECC_R_GREEN_SPIKES },
  { color: LBLUE, hi: ECC_R_LBLUE_HI, lo: ECC_R_LBLUE_LO, spikes: ECC_R_LBLUE_SPIKES },
  { color: ORANGE, hi: ECC_R_ORANGE_HI, lo: ECC_R_ORANGE_LO, spikes: ECC_R_ORANGE_SPIKES },
  { color: YELLOW, hi: ECC_R_YELLOW_HI, lo: ECC_R_YELLOW_LO, spikes: ECC_R_YELLOW_SPIKES },
  { color: DBLUE, hi: ECC_R_DBLUE_HI, lo: ECC_R_DBLUE_LO, spikes: ECC_R_DBLUE_SPIKES },
]
const INC_R: Series[] = [
  { color: PURPLE, hi: INC_R_PURPLE_HI, lo: INC_R_PURPLE_LO, spikes: INC_R_PURPLE_SPIKES },
  { color: GREEN, hi: INC_R_GREEN_HI, lo: INC_R_GREEN_LO },
  { color: LBLUE, hi: INC_R_LBLUE_HI, lo: INC_R_LBLUE_LO, spikes: INC_R_LBLUE_SPIKES },
  { color: ORANGE, hi: INC_R_ORANGE_HI, lo: INC_R_ORANGE_LO },
  { color: YELLOW, hi: INC_R_YELLOW_HI, lo: INC_R_YELLOW_LO },
  { color: DBLUE, hi: INC_R_DBLUE_HI, lo: INC_R_DBLUE_LO, spikes: INC_R_DBLUE_SPIKES },
]

const TICK_FONT = { family: 'DejaVu Sans', size: 28, lineHeight: 1 }
const TITLE_FONT = { family: 'DejaVu Sans', size: 35, lineHeight: 1 }

// gnuplot-style border with inward ticks on all four sides
const framePlugin = {
  id: 'frame',
  // eslint-disable-next-line @typescript-eslint/no-explicit-any
  afterDatasetsDraw(chart: any, _args: any, opts: any) {
    const { ctx, chartArea: a } = chart
    const x = chart.scales.x
    const y = chart.scales.y
    ctx.save()
    ctx.strokeStyle = '#000'
    ctx.lineWidth = 2
    ctx.beginPath()
    for (const v of opts.xTicks) {
      const px = x.getPixelForValue(v)
      ctx.moveTo(px, a.bottom)
      ctx.lineTo(px, a.bottom - 10)
      ctx.moveTo(px, a.top)
      ctx.lineTo(px, a.top + 10)
    }
    for (const v of opts.yTicks) {
      const py = y.getPixelForValue(v)
      ctx.moveTo(a.left, py)
      ctx.lineTo(a.left + 10, py)
      ctx.moveTo(a.right, py)
      ctx.lineTo(a.right - 10, py)
    }
    ctx.stroke()
    ctx.lineWidth = 3.5
    ctx.strokeRect(a.left, a.top, a.right - a.left, a.bottom - a.top)
    ctx.restore()
  },
}

function buildDatasets(time: number[], series: Series[]) {
  // eslint-disable-next-line @typescript-eslint/no-explicit-any
  const out: any[] = []
  const common = { pointRadius: 0, tension: 0, clip: 0, spanGaps: false }
  // Chart.js paints the first dataset last, so the top layer goes first
  for (let k = series.length - 1; k >= 0; k--) {
    const s = series[k]
    if (s.spikes) {
      out.push({ ...common, data: s.spikes.map(([x, y]) => ({ x, y })), borderColor: s.color, borderWidth: 1.2, fill: false })
    }
    out.push({ ...common, data: time.map((t, i) => ({ x: t, y: s.hi[i] })), borderColor: s.color, backgroundColor: s.color, borderWidth: 1, fill: '+1' })
    out.push({ ...common, data: time.map((t, i) => ({ x: t, y: s.lo[i] })), borderColor: s.color, borderWidth: 1, fill: false })
  }
  return out
}

interface PanelProps {
  left: number
  top: number
  width: number
  height: number
  pad: { top: number; right: number; bottom: number }
  yWidth: number
  xHeight: number
  showX: boolean
  time: number[]
  series: Series[]
  xMax: number
  xTicks: number[]
  xLabels: string[]
  yMin: number
  yMax: number
  yTicks: number[]
  yLabels: string[]
  yTitle: string
  yTitlePad: number
}

function Panel(p: PanelProps) {
  const canvasRef = useRef<HTMLCanvasElement>(null)

  useEffect(() => {
    if (!canvasRef.current) return
    const chart = new Chart(canvasRef.current, {
      type: 'line',
      data: { datasets: buildDatasets(p.time, p.series) },
      plugins: [framePlugin],
      options: {
        animation: false,
        responsive: false,
        events: [],
        layout: { padding: { left: 0, ...p.pad } },
        plugins: {
          legend: { display: false },
          tooltip: { enabled: false },
          // eslint-disable-next-line @typescript-eslint/no-explicit-any
          frame: { xTicks: p.xTicks, yTicks: p.yTicks } as any,
        },
        scales: {
          x: {
            type: 'linear',
            min: 0,
            max: p.xMax,
            display: p.showX,
            grid: { display: false, drawTicks: false },
            border: { display: false },
            afterBuildTicks: (s) => { s.ticks = p.xTicks.map((v) => ({ value: v })) },
            afterFit: (s) => { s.height = p.xHeight; s.paddingLeft = 0; s.paddingRight = 0 },
            ticks: { padding: 18, color: '#000', font: TICK_FONT, maxRotation: 0, autoSkip: false, callback: (_v, i) => p.xLabels[i] },
            title: { display: p.showX, text: 'Time in Myr', color: '#000', font: TITLE_FONT, padding: { top: 0, bottom: 7 } },
          },
          y: {
            type: 'linear',
            min: p.yMin,
            max: p.yMax,
            grid: { display: false, drawTicks: false },
            border: { display: false },
            afterBuildTicks: (s) => { s.ticks = p.yTicks.map((v) => ({ value: v })) },
            afterFit: (s) => { s.width = p.yWidth; s.paddingTop = 0; s.paddingBottom = 0 },
            ticks: { padding: 22, color: '#000', font: TICK_FONT, autoSkip: false, callback: (_v, i) => p.yLabels[i] },
            title: { display: true, text: p.yTitle, color: '#000', font: TITLE_FONT, padding: { top: p.yTitlePad, bottom: 0 } },
          },
        },
      },
    })
    return () => chart.destroy()
  }, [])

  return (
    <canvas
      ref={canvasRef}
      width={p.width}
      height={p.height}
      style={{ position: 'absolute', left: p.left, top: p.top, width: p.width, height: p.height }}
    />
  )
}

export default function App() {
  return (
    <div style={{ position: 'fixed', left: 0, top: 0, width: 1934, height: 924, background: '#fff', overflow: 'hidden' }}>
      <Panel
        left={-20} top={0} width={920} height={420}
        pad={{ top: 12, right: 25, bottom: 3 }} yWidth={202} xHeight={0} showX={false}
        time={TIME_L} series={ECC_L} xMax={0.5} xTicks={X_TICKS_L} xLabels={X_LABELS_L}
        yMin={0.0105} yMax={0.045} yTicks={ECC_L_TICKS} yLabels={ECC_L_LABELS}
        yTitle="Eccentricity" yTitlePad={17.9}
      />
      <Panel
        left={-20} top={414} width={920} height={510}
        pad={{ top: 3, right: 25, bottom: 0 }} yWidth={202} xHeight={102} showX
        time={TIME_L} series={INC_L} xMax={0.5} xTicks={X_TICKS_L} xLabels={X_LABELS_L}
        yMin={0.5} yMax={1.048} yTicks={INC_L_TICKS} yLabels={INC_L_LABELS}
        yTitle="Inclination (°)" yTitlePad={58.5}
      />
      <Panel
        left={1040} top={0} width={894} height={420}
        pad={{ top: 12, right: 7, bottom: 3 }} yWidth={194} xHeight={0} showX={false}
        time={TIME_R} series={ECC_R} xMax={1} xTicks={X_TICKS_R} xLabels={X_LABELS_R}
        yMin={0} yMax={0.025} yTicks={ECC_R_TICKS} yLabels={ECC_R_LABELS}
        yTitle="Eccentricity" yTitlePad={11.5}
      />
      <Panel
        left={1040} top={414} width={894} height={510}
        pad={{ top: 3, right: 7, bottom: 0 }} yWidth={194} xHeight={102} showX
        time={TIME_R} series={INC_R} xMax={1} xTicks={X_TICKS_R} xLabels={X_LABELS_R}
        yMin={0} yMax={0.0993} yTicks={INC_R_TICKS} yLabels={INC_R_LABELS}
        yTitle="Inclination (°)" yTitlePad={32.1}
      />
    </div>
  )
}
